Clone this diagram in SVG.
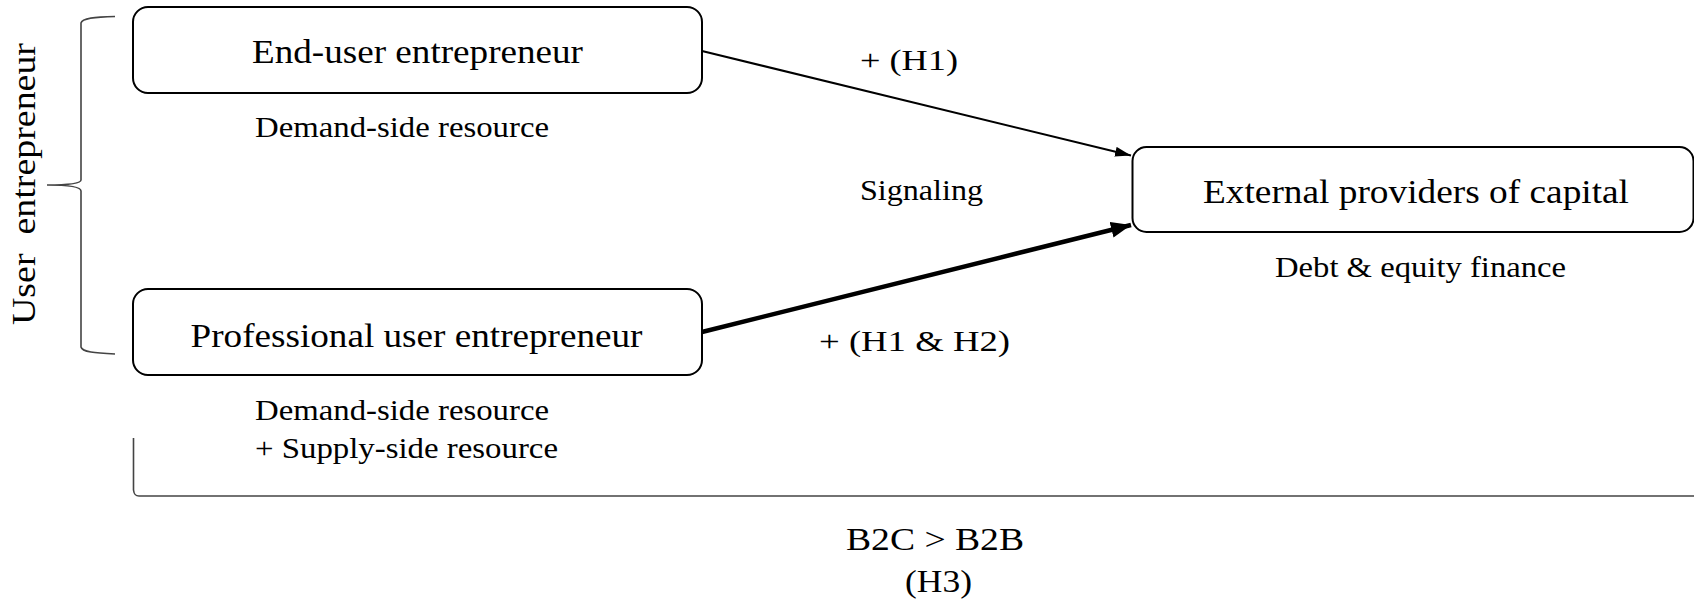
<svg xmlns="http://www.w3.org/2000/svg" width="1694" height="604" viewBox="0 0 1694 604">
  <style>
    text { font-family: "Liberation Serif", "Times New Roman", serif; fill: #000; }
    .main { font-size: 33px; }
    .sub { font-size: 29.5px; }
    .big { font-size: 30.5px; }
    .box { fill: #fff; stroke: #000; stroke-width: 2; }
    .brace { fill: none; stroke: #444; stroke-width: 1.6; }
  </style>
  <defs>
    <marker id="ah-thin" viewBox="0 0 16 10" refX="16" refY="5" markerWidth="16" markerHeight="10" markerUnits="userSpaceOnUse" orient="auto">
      <path d="M0,0 L16,5 L0,10 Z" fill="#000"/>
    </marker>
    <marker id="ah-thick" viewBox="0 0 20 16" refX="20" refY="8" markerWidth="20" markerHeight="16" markerUnits="userSpaceOnUse" orient="auto">
      <path d="M0,0 L20,8 L0,16 Z" fill="#000"/>
    </marker>
  </defs>

  <g id="brace-user">
    <path class="brace" d="M115,16.5 C95,17 82,18 81,23 L81,180 C81,183 70,185 47,185 C70,185 81,187 81,191 L81,347 C82,352 95,353 115,354"/>
    <text class="main" style="font-size:34px" transform="translate(35,325) rotate(-90)" textLength="282" lengthAdjust="spacingAndGlyphs" xml:space="preserve">User  entrepreneur</text>
  </g>

  <g id="node-end-user">
    <rect class="box" x="133" y="7" width="569" height="86" rx="15" ry="15"/>
    <text class="main" x="252" y="63" textLength="331" lengthAdjust="spacingAndGlyphs">End-user entrepreneur</text>
    <text class="sub" x="255" y="137" textLength="294" lengthAdjust="spacingAndGlyphs">Demand-side resource</text>
  </g>

  <g id="node-professional">
    <rect class="box" x="133" y="289" width="569" height="86" rx="15" ry="15"/>
    <text class="main" x="190.5" y="347" textLength="452" lengthAdjust="spacingAndGlyphs">Professional user entrepreneur</text>
    <text class="sub" x="255" y="420" textLength="294" lengthAdjust="spacingAndGlyphs">Demand-side resource</text>
    <text class="sub" x="255" y="458" textLength="303" lengthAdjust="spacingAndGlyphs">+ Supply-side resource</text>
  </g>

  <g id="node-external">
    <rect class="box" x="1132.5" y="147" width="561" height="85" rx="14" ry="14"/>
    <text class="main" x="1203" y="203" textLength="426" lengthAdjust="spacingAndGlyphs">External providers of capital</text>
    <text class="sub" x="1275" y="277" textLength="291" lengthAdjust="spacingAndGlyphs">Debt &amp; equity finance</text>
  </g>

  <g id="connectors">
    <line x1="702" y1="51" x2="1131" y2="155.5" stroke="#000" stroke-width="2" marker-end="url(#ah-thin)"/>
    <line x1="702" y1="332" x2="1131" y2="225" stroke="#000" stroke-width="4.5" marker-end="url(#ah-thick)"/>
    <text class="sub" x="860" y="70" textLength="98" lengthAdjust="spacingAndGlyphs">+ (H1)</text>
    <text class="sub" x="860" y="200" textLength="123" lengthAdjust="spacingAndGlyphs">Signaling</text>
    <text class="sub" x="819" y="351" textLength="191" lengthAdjust="spacingAndGlyphs">+ (H1 &amp; H2)</text>
  </g>

  <g id="bracket-b2c">
    <path class="brace" d="M133.5,438 L133.5,490 C134,494 135,496 139,496 L1694,496"/>
    <text class="big" x="846" y="550" textLength="178" lengthAdjust="spacingAndGlyphs">B2C &gt; B2B</text>
    <text class="big" x="905" y="592" textLength="67" lengthAdjust="spacingAndGlyphs">(H3)</text>
  </g>
</svg>
